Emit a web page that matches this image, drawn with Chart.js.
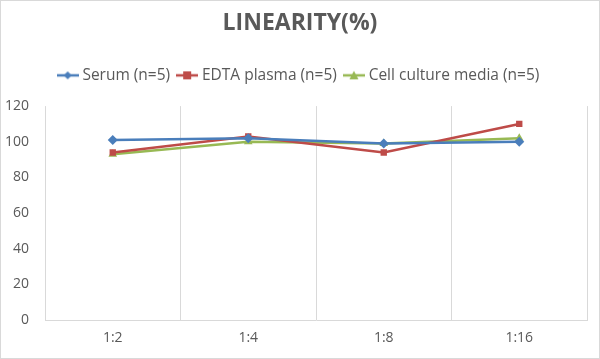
<!DOCTYPE html>
<html><head><meta charset="utf-8">
<script src="https://cdn.jsdelivr.net/npm/chart.js@4.4.1/dist/chart.umd.min.js"></script>
<style>html,body{margin:0;padding:0;background:#fff}#wrap{width:600px;height:359px}</style>
</head><body><div id="wrap"><canvas id="c"></canvas></div>
<script>
const categories = ["1:2", "1:4", "1:8", "1:16"];
const serum = [101, 102, 99, 100];
const edta = [94, 103, 94, 110];
const cellCulture = [93, 100, 99, 102];
const seriesNames = ["Serum (n=5)", "EDTA plasma (n=5)", "Cell culture media (n=5)"];
const yTicks = [0, 20, 40, 60, 80, 100, 120];

const colors = ["#4A7EBB", "#BE4B48", "#98B954"];
const styles = ["rectRot", "rect", "triangle"];

function legendIcon(color, style) {
  const c = document.createElement("canvas");
  c.width = 22; c.height = 12;
  const g = c.getContext("2d");
  g.strokeStyle = color; g.lineWidth = 2.5;
  g.beginPath(); g.moveTo(0, 6); g.lineTo(22, 6); g.stroke();
  g.fillStyle = color;
  g.beginPath();
  if (style === "rectRot") { g.moveTo(11, 2); g.lineTo(15, 6); g.lineTo(11, 10); g.lineTo(7, 6); }
  else if (style === "rect") { g.rect(7, 2, 8, 8); }
  else { g.moveTo(11, 1.5); g.lineTo(15.5, 10); g.lineTo(6.5, 10); }
  g.closePath(); g.fill();
  return c;
}
const icons = colors.map((c, i) => legendIcon(c, styles[i]));

const seriesData = [serum, edta, cellCulture];
const datasets = seriesData.map((d, i) => ({
  label: seriesNames[i],
  data: d,
  xAxisID: "x",
  yAxisID: "y",
  borderColor: colors[i],
  backgroundColor: colors[i],
  borderWidth: 2.5,
  pointStyle: styles[i],
  pointRadius: styles[i] === "rect" ? 4.5 : 5,
  pointBorderWidth: 0,
  tension: 0
}));

const frame = {
  id: "frame",
  afterDraw(chart) {
    const g = chart.ctx;
    g.save(); g.strokeStyle = "#D9D9D9"; g.lineWidth = 1;
    g.strokeRect(0.5, 0.5, chart.width - 1, chart.height - 1);
    g.restore();
  }
};

new Chart(document.getElementById("c"), {
  type: "line",
  data: { labels: categories, datasets },
  plugins: [frame],
  options: {
    responsive: true, maintainAspectRatio: false, animation: false,
    layout: { padding: { left: 0, right: 0, top: 8, bottom: 0 } },
    plugins: {
      title: { display: true, text: "LINEARITY(%)", color: "#595959",
        font: { family: "Open Sans", size: 23, weight: "bold" }, padding: { top: 2, bottom: 20 } },
      legend: { position: "top",
        labels: { color: "#595959", font: { family: "Open Sans", size: 15.5 }, usePointStyle: true,
          pointStyleWidth: 14, boxHeight: 12, padding: 10,
          generateLabels: (chart) => chart.data.datasets.map((ds, i) => ({
            text: ds.label, pointStyle: icons[i], fillStyle: ds.borderColor, strokeStyle: ds.borderColor,
            lineWidth: 0, datasetIndex: i, fontColor: "#595959"
          })) } },
      tooltip: { enabled: false }
    },
    scales: {
      x: {
        offset: true,
        grid: { offset: true, color: "#D9D9D9", lineWidth: 1, drawTicks: false },
        border: { color: "#D9D9D9" },
        ticks: { color: "#595959", font: { family: "Open Sans", size: 14 }, padding: 10 },
        afterFit: (s) => { s.height = 39; }
      },
      y: {
        min: 0, max: 120,
        afterBuildTicks: (s) => { s.ticks = yTicks.map(v => ({ value: v })); },
        grid: { display: false },
        border: { display: false },
        ticks: { color: "#595959", font: { family: "Open Sans", size: 14 }, padding: 8 },
        afterFit: (s) => { s.width = 45; }
      },
      spacer: {
        type: "category", position: "top", offset: true,
        grid: { display: false }, border: { display: false }, ticks: { display: false },
        afterFit: (s) => { s.height = 13; }
      },
      spacerR: {
        type: "linear", position: "right",
        grid: { display: false }, border: { display: false }, ticks: { display: false },
        afterFit: (s) => { s.width = 13; }
      }
    }
  }
});
</script></body></html>
